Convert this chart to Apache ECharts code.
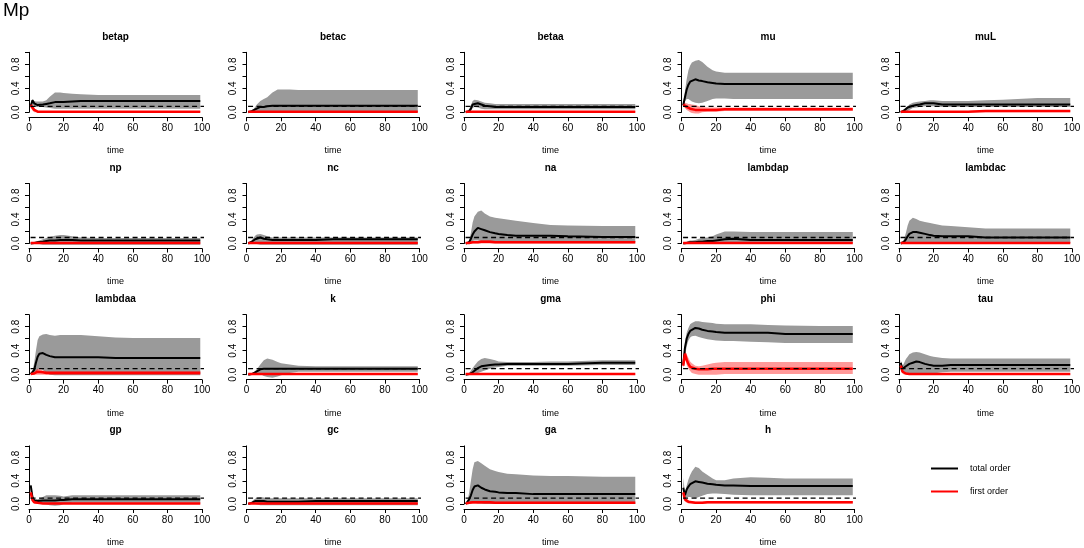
<!DOCTYPE html>
<html>
<head>
<meta charset="utf-8">
<script src="https://cdn.jsdelivr.net/npm/echarts@6/dist/echarts.min.js"></script>
<style>
  html, body { margin: 0; padding: 0; background: #fff; }
  #chart { width: 1084px; height: 548px; }
</style>
</head>
<body>
<div id="chart"></div>
<script>
// time points shared by all panels
var time = [1, 2, 3, 4, 5, 6, 8, 10, 12, 15, 18, 20, 25, 30, 40, 50, 60, 80, 99];
var threshold = 0.1;

// first order index that stays close to zero
var flatFirst   = [0.01, 0.01, 0.01, 0.01, 0.01, 0.01, 0.01, 0.01, 0.01, 0.01, 0.01, 0.01, 0.01, 0.01, 0.01, 0.01, 0.01, 0.01, 0.01];
var flatFirstLo = [0, 0, 0, 0, 0, 0, 0, 0, 0, 0, 0, 0, 0, 0, 0, 0, 0, 0, 0];
var flatFirstHi = [0.02, 0.02, 0.02, 0.02, 0.02, 0.02, 0.02, 0.02, 0.02, 0.02, 0.02, 0.02, 0.02, 0.02, 0.02, 0.02, 0.02, 0.02, 0.02];

// betap
var betapTotal   = [0.10, 0.20, 0.15, 0.13, 0.12, 0.12, 0.13, 0.14, 0.15, 0.17, 0.17, 0.17, 0.18, 0.19, 0.19, 0.19, 0.19, 0.19, 0.19];
var betapTotalLo = [0.07, 0.14, 0.10, 0.09, 0.09, 0.09, 0.09, 0.08, 0.07, 0.06, 0.06, 0.06, 0.06, 0.06, 0.06, 0.06, 0.06, 0.06, 0.06];
var betapTotalHi = [0.14, 0.22, 0.19, 0.18, 0.18, 0.18, 0.18, 0.20, 0.26, 0.33, 0.33, 0.32, 0.31, 0.30, 0.29, 0.29, 0.29, 0.29, 0.29];
var betapFirst   = [0.12, 0.08, 0.04, 0.02, 0.01, 0.01, 0.01, 0.01, 0.01, 0.01, 0.01, 0.01, 0.01, 0.01, 0.01, 0.01, 0.01, 0.01, 0.01];
var betapFirstLo = [0.07, 0.03, 0.00, 0.00, 0.00, 0.00, 0.00, 0.00, 0.00, 0.00, 0.00, 0.00, 0.00, 0.00, 0.00, 0.00, 0.00, 0.00, 0.00];
var betapFirstHi = [0.16, 0.13, 0.08, 0.04, 0.02, 0.02, 0.02, 0.02, 0.02, 0.02, 0.02, 0.02, 0.02, 0.02, 0.02, 0.02, 0.02, 0.02, 0.02];

// betac
var betacTotal   = [0.00, 0.01, 0.02, 0.03, 0.05, 0.06, 0.09, 0.09, 0.10, 0.11, 0.11, 0.11, 0.11, 0.11, 0.11, 0.11, 0.11, 0.11, 0.11];
var betacTotalLo = [0.00, 0.00, 0.00, 0.00, 0.00, 0.00, 0.00, 0.00, 0.00, 0.00, 0.00, 0.00, 0.00, 0.00, 0.00, 0.00, 0.00, 0.00, 0.00];
var betacTotalHi = [0.00, 0.01, 0.02, 0.05, 0.09, 0.13, 0.19, 0.22, 0.25, 0.33, 0.38, 0.38, 0.38, 0.37, 0.37, 0.37, 0.37, 0.37, 0.37];

// betaa
var betaaTotal   = [0.00, 0.01, 0.02, 0.06, 0.13, 0.15, 0.15, 0.13, 0.11, 0.10, 0.09, 0.09, 0.09, 0.09, 0.09, 0.09, 0.09, 0.09, 0.09];
var betaaTotalLo = [0.00, 0.00, 0.00, 0.02, 0.07, 0.09, 0.08, 0.06, 0.05, 0.05, 0.05, 0.05, 0.05, 0.05, 0.05, 0.05, 0.05, 0.05, 0.05];
var betaaTotalHi = [0.00, 0.02, 0.05, 0.12, 0.19, 0.21, 0.20, 0.18, 0.16, 0.15, 0.14, 0.14, 0.14, 0.14, 0.14, 0.14, 0.14, 0.14, 0.14];

// mu
var muTotal   = [0.12, 0.25, 0.38, 0.46, 0.51, 0.54, 0.55, 0.53, 0.52, 0.50, 0.49, 0.48, 0.47, 0.47, 0.47, 0.47, 0.47, 0.47, 0.47];
var muTotalLo = [0.10, 0.18, 0.22, 0.22, 0.20, 0.18, 0.16, 0.15, 0.16, 0.19, 0.22, 0.23, 0.23, 0.22, 0.22, 0.22, 0.22, 0.22, 0.22];
var muTotalHi = [0.15, 0.35, 0.55, 0.70, 0.78, 0.83, 0.86, 0.87, 0.84, 0.76, 0.70, 0.68, 0.66, 0.66, 0.66, 0.66, 0.66, 0.66, 0.66];
var muFirst   = [0.13, 0.11, 0.09, 0.07, 0.06, 0.05, 0.04, 0.04, 0.04, 0.04, 0.04, 0.04, 0.05, 0.05, 0.05, 0.05, 0.05, 0.05, 0.05];
var muFirstLo = [0.10, 0.07, 0.04, 0.02, 0.00, -0.01, -0.02, -0.02, 0.00, 0.01, 0.01, 0.01, 0.02, 0.02, 0.02, 0.02, 0.02, 0.02, 0.02];
var muFirstHi = [0.17, 0.16, 0.15, 0.14, 0.14, 0.13, 0.12, 0.10, 0.09, 0.08, 0.08, 0.08, 0.08, 0.08, 0.08, 0.08, 0.08, 0.08, 0.08];

// muL
var muLTotal   = [0.00, 0.01, 0.03, 0.05, 0.08, 0.09, 0.11, 0.12, 0.13, 0.15, 0.15, 0.15, 0.13, 0.13, 0.13, 0.13, 0.13, 0.13, 0.13];
var muLTotalLo = [0.00, 0.00, 0.00, 0.01, 0.02, 0.04, 0.07, 0.08, 0.09, 0.10, 0.10, 0.10, 0.09, 0.09, 0.09, 0.09, 0.09, 0.09, 0.09];
var muLTotalHi = [0.00, 0.02, 0.05, 0.08, 0.10, 0.13, 0.16, 0.17, 0.18, 0.19, 0.20, 0.20, 0.19, 0.19, 0.19, 0.20, 0.21, 0.24, 0.24];
var muLFirst   = [0.01, 0.01, 0.01, 0.01, 0.01, 0.01, 0.01, 0.01, 0.01, 0.01, 0.01, 0.01, 0.01, 0.01, 0.01, 0.02, 0.02, 0.02, 0.02];
var muLFirstHi = [0.02, 0.02, 0.02, 0.02, 0.02, 0.02, 0.02, 0.02, 0.02, 0.02, 0.02, 0.02, 0.02, 0.02, 0.02, 0.04, 0.04, 0.04, 0.04];

// np
var npTotal   = [0.00, 0.01, 0.01, 0.02, 0.02, 0.03, 0.03, 0.04, 0.05, 0.05, 0.06, 0.06, 0.06, 0.05, 0.05, 0.05, 0.05, 0.05, 0.05];
var npTotalLo = [0.00, 0.00, 0.00, 0.00, -0.01, -0.01, -0.02, -0.02, -0.02, -0.02, -0.02, -0.02, -0.02, -0.02, -0.02, -0.02, -0.02, -0.02, -0.02];
var npTotalHi = [0.00, 0.01, 0.02, 0.03, 0.04, 0.05, 0.07, 0.09, 0.11, 0.13, 0.14, 0.14, 0.12, 0.10, 0.09, 0.09, 0.09, 0.09, 0.09];

// nc
var ncTotal   = [0.00, 0.01, 0.03, 0.05, 0.07, 0.09, 0.10, 0.08, 0.07, 0.06, 0.06, 0.06, 0.06, 0.06, 0.06, 0.07, 0.07, 0.07, 0.07];
var ncTotalLo = [0.00, 0.00, 0.00, 0.00, 0.00, -0.01, -0.02, -0.02, -0.02, -0.02, -0.02, -0.02, -0.02, -0.02, -0.02, -0.02, -0.02, -0.02, -0.02];
var ncTotalHi = [0.00, 0.02, 0.05, 0.09, 0.13, 0.15, 0.16, 0.14, 0.12, 0.10, 0.10, 0.10, 0.10, 0.10, 0.10, 0.10, 0.10, 0.10, 0.10];

// na
var naTotal   = [0.00, 0.01, 0.02, 0.08, 0.15, 0.20, 0.26, 0.24, 0.22, 0.19, 0.17, 0.16, 0.14, 0.13, 0.13, 0.13, 0.12, 0.11, 0.11];
var naTotalLo = [0.00, 0.00, 0.00, 0.02, 0.04, 0.05, 0.05, 0.04, 0.03, 0.03, 0.02, 0.02, 0.02, 0.02, 0.02, 0.02, 0.02, 0.02, 0.02];
var naTotalHi = [0.00, 0.02, 0.05, 0.18, 0.35, 0.45, 0.53, 0.55, 0.50, 0.45, 0.43, 0.42, 0.40, 0.38, 0.34, 0.31, 0.30, 0.29, 0.29];
var naFirst   = [0.01, 0.01, 0.01, 0.02, 0.02, 0.02, 0.02, 0.03, 0.03, 0.03, 0.02, 0.02, 0.02, 0.02, 0.02, 0.02, 0.02, 0.02, 0.02];
var naFirstHi = [0.02, 0.02, 0.03, 0.04, 0.04, 0.04, 0.04, 0.05, 0.05, 0.05, 0.04, 0.04, 0.04, 0.04, 0.04, 0.04, 0.04, 0.04, 0.04];

// lambdap
var lambdapTotal   = [0.00, 0.01, 0.01, 0.01, 0.02, 0.02, 0.02, 0.03, 0.03, 0.04, 0.04, 0.05, 0.07, 0.08, 0.06, 0.06, 0.06, 0.06, 0.06];
var lambdapTotalLo = [0.00, 0.00, 0.00, 0.00, 0.00, 0.00, 0.00, -0.01, -0.01, -0.01, -0.01, -0.01, 0.00, 0.01, 0.01, 0.01, 0.01, 0.01, 0.01];
var lambdapTotalHi = [0.00, 0.02, 0.03, 0.04, 0.05, 0.05, 0.06, 0.08, 0.09, 0.10, 0.12, 0.15, 0.20, 0.20, 0.19, 0.19, 0.19, 0.19, 0.19];

// lambdac
var lambdacTotal   = [0.00, 0.01, 0.03, 0.07, 0.12, 0.16, 0.19, 0.19, 0.18, 0.16, 0.14, 0.13, 0.12, 0.12, 0.12, 0.10, 0.10, 0.10, 0.10];
var lambdacTotalLo = [0.00, 0.00, 0.00, 0.01, 0.02, 0.02, 0.02, 0.02, 0.02, 0.01, 0.01, 0.01, 0.01, 0.01, 0.01, 0.01, 0.01, 0.01, 0.01];
var lambdacTotalHi = [0.00, 0.02, 0.08, 0.18, 0.30, 0.38, 0.43, 0.41, 0.38, 0.36, 0.34, 0.33, 0.30, 0.29, 0.27, 0.25, 0.25, 0.25, 0.25];

// lambdaa
var lambdaaTotal   = [0.01, 0.02, 0.08, 0.20, 0.30, 0.35, 0.36, 0.33, 0.31, 0.29, 0.29, 0.29, 0.29, 0.29, 0.29, 0.28, 0.28, 0.28, 0.28];
var lambdaaTotalLo = [0.00, 0.00, 0.02, 0.05, 0.08, 0.10, 0.08, 0.03, 0.00, -0.01, -0.01, -0.01, -0.01, -0.01, -0.01, -0.01, -0.01, -0.01, -0.01];
var lambdaaTotalHi = [0.02, 0.05, 0.20, 0.40, 0.58, 0.64, 0.67, 0.68, 0.66, 0.65, 0.66, 0.66, 0.66, 0.66, 0.64, 0.62, 0.61, 0.61, 0.61];
var lambdaaFirst   = [0.01, 0.01, 0.02, 0.04, 0.05, 0.05, 0.04, 0.03, 0.03, 0.03, 0.03, 0.03, 0.03, 0.03, 0.03, 0.03, 0.03, 0.03, 0.03];
var lambdaaFirstHi = [0.02, 0.03, 0.05, 0.08, 0.10, 0.10, 0.07, 0.06, 0.06, 0.06, 0.06, 0.06, 0.06, 0.06, 0.06, 0.06, 0.06, 0.06, 0.06];

// k
var kTotal   = [0.00, 0.00, 0.01, 0.02, 0.04, 0.05, 0.09, 0.10, 0.10, 0.10, 0.10, 0.10, 0.10, 0.10, 0.10, 0.10, 0.10, 0.10, 0.10];
var kTotalLo = [0.00, 0.00, 0.00, 0.00, 0.00, 0.00, 0.01, -0.02, -0.04, -0.05, -0.03, -0.01, 0.03, 0.05, 0.05, 0.05, 0.05, 0.05, 0.05];
var kTotalHi = [0.00, 0.00, 0.02, 0.04, 0.06, 0.09, 0.17, 0.24, 0.27, 0.25, 0.21, 0.19, 0.17, 0.15, 0.14, 0.14, 0.14, 0.14, 0.14];

// gma
var gmaTotal   = [0.00, 0.01, 0.01, 0.03, 0.04, 0.06, 0.11, 0.14, 0.15, 0.16, 0.17, 0.17, 0.18, 0.18, 0.18, 0.18, 0.18, 0.20, 0.20];
var gmaTotalLo = [0.00, 0.00, 0.00, 0.00, 0.01, 0.02, 0.03, 0.05, 0.07, 0.10, 0.12, 0.13, 0.15, 0.15, 0.15, 0.15, 0.15, 0.16, 0.16];
var gmaTotalHi = [0.00, 0.02, 0.03, 0.07, 0.11, 0.15, 0.22, 0.26, 0.28, 0.26, 0.24, 0.22, 0.21, 0.21, 0.21, 0.22, 0.22, 0.24, 0.24];

// phi
var phiTotal   = [0.17, 0.45, 0.60, 0.68, 0.73, 0.75, 0.78, 0.77, 0.75, 0.73, 0.72, 0.71, 0.70, 0.70, 0.70, 0.70, 0.68, 0.68, 0.68];
var phiTotalLo = [0.13, 0.30, 0.48, 0.57, 0.62, 0.64, 0.65, 0.63, 0.61, 0.59, 0.58, 0.57, 0.56, 0.56, 0.55, 0.54, 0.53, 0.53, 0.53];
var phiTotalHi = [0.22, 0.55, 0.70, 0.78, 0.84, 0.86, 0.89, 0.89, 0.88, 0.87, 0.86, 0.85, 0.84, 0.84, 0.84, 0.83, 0.82, 0.81, 0.81];
var phiFirst   = [0.15, 0.35, 0.25, 0.18, 0.13, 0.11, 0.10, 0.09, 0.09, 0.09, 0.10, 0.10, 0.10, 0.10, 0.10, 0.10, 0.10, 0.10, 0.10];
var phiFirstLo = [0.10, 0.28, 0.16, 0.10, 0.06, 0.03, 0.01, 0.00, 0.00, 0.00, 0.00, 0.00, 0.01, 0.01, 0.01, 0.01, 0.01, 0.01, 0.01];
var phiFirstHi = [0.20, 0.40, 0.34, 0.28, 0.22, 0.19, 0.15, 0.14, 0.15, 0.17, 0.19, 0.20, 0.21, 0.21, 0.21, 0.21, 0.21, 0.21, 0.21];

// tau
var tauTotal   = [0.20, 0.10, 0.12, 0.14, 0.16, 0.18, 0.20, 0.22, 0.21, 0.18, 0.16, 0.15, 0.15, 0.16, 0.16, 0.16, 0.16, 0.16, 0.16];
var tauTotalLo = [0.15, 0.06, 0.05, 0.04, 0.03, 0.02, 0.01, 0.00, 0.00, 0.01, 0.02, 0.02, 0.04, 0.05, 0.05, 0.05, 0.05, 0.05, 0.05];
var tauTotalHi = [0.25, 0.14, 0.20, 0.26, 0.30, 0.34, 0.37, 0.38, 0.37, 0.34, 0.31, 0.30, 0.28, 0.27, 0.27, 0.27, 0.27, 0.27, 0.27];
var tauFirst   = [0.15, 0.05, 0.03, 0.02, 0.01, 0.01, 0.01, 0.01, 0.01, 0.01, 0.01, 0.01, 0.01, 0.01, 0.01, 0.01, 0.01, 0.01, 0.01];
var tauFirstLo = [0.10, 0.02, 0.00, 0.00, 0.00, 0.00, 0.00, 0.00, 0.00, 0.00, 0.00, 0.00, 0.00, 0.00, 0.00, 0.00, 0.00, 0.00, 0.00];
var tauFirstHi = [0.20, 0.08, 0.05, 0.03, 0.02, 0.02, 0.02, 0.02, 0.02, 0.02, 0.02, 0.02, 0.02, 0.02, 0.02, 0.02, 0.02, 0.02, 0.02];

// gp
var gpTotal   = [0.32, 0.12, 0.06, 0.05, 0.05, 0.05, 0.06, 0.06, 0.06, 0.06, 0.07, 0.07, 0.08, 0.08, 0.08, 0.08, 0.08, 0.08, 0.08];
var gpTotalLo = [0.25, 0.07, 0.03, 0.02, 0.01, 0.01, 0.00, -0.01, -0.02, -0.03, -0.02, 0.00, 0.02, 0.02, 0.02, 0.02, 0.02, 0.02, 0.02];
var gpTotalHi = [0.35, 0.16, 0.09, 0.08, 0.08, 0.09, 0.12, 0.15, 0.15, 0.15, 0.14, 0.13, 0.15, 0.15, 0.15, 0.15, 0.15, 0.15, 0.15];
var gpFirst   = [0.20, 0.07, 0.03, 0.02, 0.02, 0.01, 0.01, 0.01, 0.01, 0.01, 0.01, 0.01, 0.01, 0.01, 0.01, 0.01, 0.01, 0.01, 0.01];
var gpFirstLo = [0.15, 0.04, 0.01, 0.00, 0.00, 0.00, 0.00, 0.00, 0.00, 0.00, 0.00, 0.00, 0.00, 0.00, 0.00, 0.00, 0.00, 0.00, 0.00];
var gpFirstHi = [0.28, 0.10, 0.05, 0.04, 0.03, 0.02, 0.02, 0.02, 0.02, 0.02, 0.02, 0.02, 0.02, 0.02, 0.02, 0.02, 0.02, 0.02, 0.02];

// gc
var gcTotal   = [0.00, 0.01, 0.02, 0.04, 0.05, 0.05, 0.05, 0.05, 0.04, 0.04, 0.04, 0.04, 0.04, 0.04, 0.05, 0.05, 0.05, 0.05, 0.05];
var gcTotalLo = [0.00, 0.00, 0.00, 0.00, 0.00, -0.01, -0.02, -0.02, -0.02, -0.02, -0.02, -0.02, -0.02, -0.02, -0.02, -0.02, -0.02, -0.02, -0.02];
var gcTotalHi = [0.00, 0.02, 0.04, 0.07, 0.09, 0.11, 0.12, 0.11, 0.10, 0.10, 0.10, 0.10, 0.10, 0.10, 0.10, 0.10, 0.10, 0.10, 0.10];

// ga
var gaTotal   = [0.00, 0.02, 0.08, 0.15, 0.24, 0.30, 0.32, 0.28, 0.25, 0.22, 0.21, 0.20, 0.19, 0.19, 0.17, 0.17, 0.17, 0.17, 0.17];
var gaTotalLo = [0.00, 0.00, 0.02, 0.02, 0.02, 0.02, 0.01, 0.01, 0.00, 0.00, 0.00, 0.00, 0.00, 0.00, 0.00, 0.00, 0.00, 0.00, 0.00];
var gaTotalHi = [0.00, 0.05, 0.20, 0.40, 0.60, 0.72, 0.74, 0.70, 0.66, 0.60, 0.57, 0.55, 0.52, 0.51, 0.49, 0.48, 0.48, 0.47, 0.47];
var gaFirst   = [0.01, 0.01, 0.02, 0.03, 0.03, 0.03, 0.03, 0.03, 0.03, 0.03, 0.02, 0.02, 0.02, 0.02, 0.02, 0.02, 0.02, 0.02, 0.02];
var gaFirstHi = [0.02, 0.03, 0.04, 0.05, 0.05, 0.05, 0.05, 0.05, 0.05, 0.05, 0.04, 0.04, 0.04, 0.04, 0.04, 0.04, 0.04, 0.04, 0.04];

// h
var hTotal   = [0.28, 0.15, 0.25, 0.30, 0.34, 0.36, 0.39, 0.38, 0.37, 0.35, 0.34, 0.33, 0.32, 0.32, 0.31, 0.31, 0.31, 0.31, 0.31];
var hTotalLo = [0.15, 0.10, 0.11, 0.12, 0.12, 0.11, 0.10, 0.12, 0.14, 0.17, 0.18, 0.18, 0.17, 0.16, 0.15, 0.15, 0.15, 0.15, 0.15];
var hTotalHi = [0.45, 0.20, 0.32, 0.42, 0.50, 0.56, 0.64, 0.62, 0.56, 0.50, 0.44, 0.41, 0.41, 0.44, 0.46, 0.45, 0.44, 0.44, 0.44];
var hFirst   = [0.20, 0.08, 0.05, 0.04, 0.03, 0.03, 0.02, 0.02, 0.02, 0.03, 0.03, 0.03, 0.03, 0.03, 0.03, 0.03, 0.03, 0.03, 0.03];
var hFirstLo = [0.12, 0.04, 0.02, 0.01, 0.01, 0.01, 0.00, 0.00, 0.00, 0.01, 0.01, 0.01, 0.01, 0.01, 0.01, 0.01, 0.01, 0.01, 0.01];
var hFirstHi = [0.30, 0.13, 0.08, 0.06, 0.05, 0.05, 0.04, 0.04, 0.04, 0.05, 0.05, 0.05, 0.05, 0.05, 0.05, 0.05, 0.05, 0.05, 0.05];

var panels = [
    { name: 'betap', t: betapTotal, tLo: betapTotalLo, tHi: betapTotalHi, f: betapFirst, fLo: betapFirstLo, fHi: betapFirstHi },
    { name: 'betac', t: betacTotal, tLo: betacTotalLo, tHi: betacTotalHi, f: flatFirst, fLo: flatFirstLo, fHi: flatFirstHi },
    { name: 'betaa', t: betaaTotal, tLo: betaaTotalLo, tHi: betaaTotalHi, f: flatFirst, fLo: flatFirstLo, fHi: flatFirstHi },
    { name: 'mu', t: muTotal, tLo: muTotalLo, tHi: muTotalHi, f: muFirst, fLo: muFirstLo, fHi: muFirstHi },
    { name: 'muL', t: muLTotal, tLo: muLTotalLo, tHi: muLTotalHi, f: muLFirst, fLo: flatFirstLo, fHi: muLFirstHi },
    { name: 'np', t: npTotal, tLo: npTotalLo, tHi: npTotalHi, f: flatFirst, fLo: flatFirstLo, fHi: flatFirstHi },
    { name: 'nc', t: ncTotal, tLo: ncTotalLo, tHi: ncTotalHi, f: flatFirst, fLo: flatFirstLo, fHi: flatFirstHi },
    { name: 'na', t: naTotal, tLo: naTotalLo, tHi: naTotalHi, f: naFirst, fLo: flatFirstLo, fHi: naFirstHi },
    { name: 'lambdap', t: lambdapTotal, tLo: lambdapTotalLo, tHi: lambdapTotalHi, f: flatFirst, fLo: flatFirstLo, fHi: flatFirstHi },
    { name: 'lambdac', t: lambdacTotal, tLo: lambdacTotalLo, tHi: lambdacTotalHi, f: flatFirst, fLo: flatFirstLo, fHi: flatFirstHi },
    { name: 'lambdaa', t: lambdaaTotal, tLo: lambdaaTotalLo, tHi: lambdaaTotalHi, f: lambdaaFirst, fLo: flatFirstLo, fHi: lambdaaFirstHi },
    { name: 'k', t: kTotal, tLo: kTotalLo, tHi: kTotalHi, f: flatFirst, fLo: flatFirstLo, fHi: flatFirstHi },
    { name: 'gma', t: gmaTotal, tLo: gmaTotalLo, tHi: gmaTotalHi, f: flatFirst, fLo: flatFirstLo, fHi: flatFirstHi },
    { name: 'phi', t: phiTotal, tLo: phiTotalLo, tHi: phiTotalHi, f: phiFirst, fLo: phiFirstLo, fHi: phiFirstHi },
    { name: 'tau', t: tauTotal, tLo: tauTotalLo, tHi: tauTotalHi, f: tauFirst, fLo: tauFirstLo, fHi: tauFirstHi },
    { name: 'gp', t: gpTotal, tLo: gpTotalLo, tHi: gpTotalHi, f: gpFirst, fLo: gpFirstLo, fHi: gpFirstHi },
    { name: 'gc', t: gcTotal, tLo: gcTotalLo, tHi: gcTotalHi, f: flatFirst, fLo: flatFirstLo, fHi: flatFirstHi },
    { name: 'ga', t: gaTotal, tLo: gaTotalLo, tHi: gaTotalHi, f: gaFirst, fLo: flatFirstLo, fHi: gaFirstHi },
    { name: 'h', t: hTotal, tLo: hTotalLo, tHi: hTotalHi, f: hFirst, fLo: hFirstLo, fHi: hFirstHi }
];

var FONT = 'Liberation Sans, Arial, sans-serif';
var GRAY = '#9a9a9a';
var PINK = 'rgba(255,0,0,0.4)';

function pairs(ys) {
    return time.map(function(t, i) { return [t, ys[i]]; });
}

// band between lo and hi, drawn as one polygon through the axis scales
function bandSeries(i, lo, hi, color, z) {
    return {
        type: 'custom', xAxisIndex: i, yAxisIndex: i, z: z, silent: true, clip: false,
        data: time.map(function(t, k) { return [t, lo[k], hi[k]]; }),
        encode: { x: 0, y: [1, 2] },
        renderItem: function(params, api) {
            if (params.dataIndex !== 0) return;
            var upper = [], lower = [];
            for (var k = 0; k < time.length; k++) {
                upper.push(api.coord([time[k], hi[k]]));
                lower.push(api.coord([time[k], lo[k]]));
            }
            return {
                type: 'polygon',
                shape: { points: upper.concat(lower.reverse()) },
                style: { fill: color, stroke: null }
            };
        }
    };
}

var grids = [], xAxes = [], yAxes = [], series = [];
var titles = [{
    text: 'Mp', left: 3, top: 1, padding: 0,
    textStyle: { fontSize: 19, fontWeight: 'normal', color: '#000', fontFamily: FONT }
}];

panels.forEach(function(p, i) {
    var col = i % 5, row = Math.floor(i / 5);
    var left = 29 + 217.5 * col;
    var top = 52.3 + 131.2 * row;
    var w = 173, h = 60;
    grids.push({ left: left, top: top, width: w, height: h });
    titles.push({
        text: p.name, left: left + w / 2, top: top - 20.5, textAlign: 'center', padding: 0,
        textStyle: { fontSize: 10, fontWeight: 'bold', color: '#000', fontFamily: FONT }
    });
    xAxes.push({
        type: 'value', gridIndex: i, min: 0, max: 100, interval: 20, offset: 5,
        name: 'time', nameLocation: 'middle', nameGap: 29,
        nameTextStyle: { fontSize: 9, color: '#000', fontFamily: FONT },
        axisLine: { show: true, onZero: false, lineStyle: { color: '#000', width: 1 } },
        axisTick: { show: true, length: 4, lineStyle: { color: '#000' } },
        axisLabel: { fontSize: 10, color: '#000', margin: 6, fontFamily: FONT },
        splitLine: { show: false }
    });
    yAxes.push({
        type: 'value', gridIndex: i, min: 0, max: 1, interval: 0.2, offset: 7,
        axisLine: { show: true, lineStyle: { color: '#000', width: 1 } },
        axisTick: { show: true, length: 4, lineStyle: { color: '#000' } },
        axisLabel: {
            fontSize: 10, color: '#000', margin: 1, rotate: 90, fontFamily: FONT,
            formatter: function(v) {
                var k = Math.round(v * 10);
                return (k % 4 === 0) ? (k / 10).toFixed(1) : '';
            }
        },
        splitLine: { show: false }
    });

    var base = { xAxisIndex: i, yAxisIndex: i, type: 'line', showSymbol: false, symbol: 'none', clip: false, silent: true, animation: false };
    series.push(bandSeries(i, p.tLo, p.tHi, GRAY, 1));
    series.push(bandSeries(i, p.fLo, p.fHi, PINK, 2));
    series.push(Object.assign({}, base, {
        name: 'total order', z: 3, color: '#000',
        data: pairs(p.t), lineStyle: { color: '#000', width: 2 }
    }));
    series.push(Object.assign({}, base, {
        name: 'first order', z: 4, color: '#ff0000',
        data: pairs(p.f), lineStyle: { color: '#ff0000', width: 2.5 }
    }));
    // threshold line across the plot region
    series.push(Object.assign({}, base, {
        name: 'threshold', z: 5,
        data: [[-4, threshold], [104, threshold]],
        lineStyle: { color: '#000', width: 1.3, type: [5, 3.5] }
    }));
});

var chart = echarts.init(document.getElementById('chart'));
chart.setOption({
    backgroundColor: '#fff',
    animation: false,
    textStyle: { fontFamily: FONT },
    title: titles,
    legend: {
        orient: 'vertical', left: 931, top: 464, padding: 0, itemWidth: 27, itemHeight: 2, itemGap: 14,
        icon: 'rect', selectedMode: false,
        textStyle: { fontSize: 9, color: '#000', fontFamily: FONT, padding: [0, 0, 0, 7] },
        data: [
            { name: 'total order', itemStyle: { color: '#000' } },
            { name: 'first order', itemStyle: { color: '#ff0000' } }
        ]
    },
    grid: grids,
    xAxis: xAxes,
    yAxis: yAxes,
    series: series
});
</script>
</body>
</html>
